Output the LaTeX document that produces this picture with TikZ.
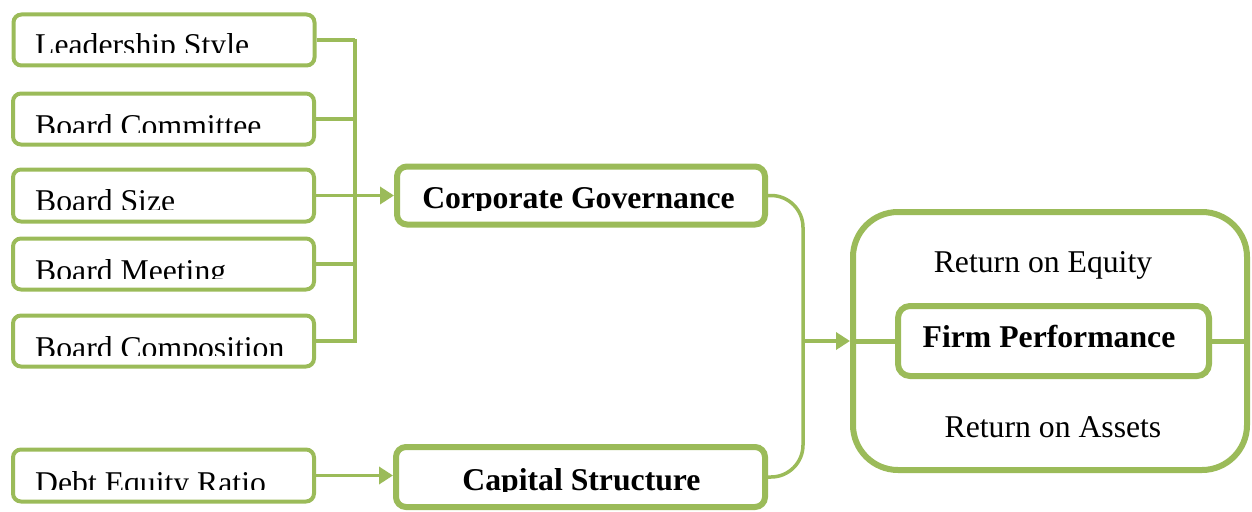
\documentclass[tikz,border=0pt]{standalone}
\usepackage{fontspec}
\setmainfont{Liberation Serif}
\usetikzlibrary{arrows.meta}
\definecolor{olive}{HTML}{9BBB59}

% text whose lower part is cut off by a horizontal clip line
% #1 name, #2 node options, #3 x, #4 baseline y, #5 clip top, #6 clip bottom, #7 text
\newcommand{\cuttext}[7]{%
  \begin{scope}
    \clip (0,#5) rectangle (1252,#6);
    \node[#2] (#1) at (#3,#4) {#7};
  \end{scope}}

\begin{document}
\begin{tikzpicture}[x=1pt,y=-1pt,
  smallbox/.style={draw=olive, line width=4pt, rounded corners=8pt,
    minimum width=301pt, minimum height=51pt, inner sep=0pt},
  bigbox/.style={draw=olive, line width=6pt, rounded corners=10pt, inner sep=0pt},
  conn/.style={draw=olive, line width=3.5pt},
  arr/.style={conn, -{Triangle[length=14pt,width=17pt]}},
  txt/.style={font=\fontsize{31.7}{38}\selectfont, inner sep=0pt, anchor=base west},
  ctxt/.style={font=\fontsize{31.7}{38}\selectfont, inner sep=0pt, anchor=base},
  btxt/.style={font=\fontsize{31.7}{38}\selectfont\bfseries, inner sep=0pt, anchor=base}]
\useasboundingbox (0,0) rectangle (1252,511);

% left column of indicators
\node[smallbox] (ls)    at (164,40)    {};
\node[smallbox] (bc)    at (163.5,119)   {};
\node[smallbox, minimum height=52pt] (bs) at (163.5,195.5) {};
\node[smallbox] (bm)    at (163.5,264)   {};
\node[smallbox] (bcomp) at (163.5,341)   {};
\node[smallbox, minimum height=52pt] (de) at (163.5,475.5) {};

\cuttext{lst}{txt}{35}{56}{15}{53}{Leadership Style}
\cuttext{bct}{txt}{35}{136}{94}{132}{Board Committee}
\cuttext{bst}{txt}{35}{211}{170}{209}{Board Size}
\cuttext{bmt}{txt}{35}{281}{239}{278}{Board Meeting}
\cuttext{bcompt}{txt}{35}{358}{316}{355}{Board Composition}
\cuttext{det}{txt}{35}{493}{451}{489}{Debt Equity Ratio}

% main constructs
\node[bigbox, minimum width=368pt, minimum height=58pt] (cg) at (581,195.5) {};
\node[bigbox, minimum width=369pt, minimum height=60pt] (cs) at (580.5,477) {};
\cuttext{cgt}{btxt}{578.5}{208}{168}{210}{Corporate Governance}
\cuttext{cst}{btxt}{581.5}{490}{449}{491}{Capital Structure}

% outcome container
\node[bigbox, rounded corners=45pt, minimum width=394pt, minimum height=258pt] (out) at (1050,341) {};
\node[bigbox, rounded corners=12pt, minimum width=311pt, minimum height=70pt] (fp) at (1053.5,341) {};
\node[ctxt] (roe) at (1043,272) {Return on Equity};
\node[btxt] (fpt) at (1049,347) {Firm Performance};
\node[ctxt] (roa) at (1053,437) {Return on Assets};

% bracket joining the governance indicators
\coordinate (brtop) at (355,39);
\coordinate (brbot) at (355,342.75);
\draw[conn] (ls.east) -- (ls.east -| brtop);
\draw[conn] (bc.east) -- (bc.east -| brtop);
\draw[conn] (bm.east) -- (bm.east -| brtop);
\draw[conn] (bcomp.east) -- (bcomp.east -| brbot);
\draw[conn] (brtop) -- (brbot);
\draw[arr] (bs.east) -- (cg.west);
\draw[arr] (de.east) -- (de.east -| cs.west);

% bracket joining the two constructs, leading to performance
\coordinate (bus) at (803,341);
\draw[conn, rounded corners=32pt] (cg.east) -- (cg.east -| bus) -- (cs.east -| bus) -- (cs.east);
\draw[arr] (bus) -- (out.west);
\draw[conn, line width=5pt] (out.west) -- (fp.west);
\draw[conn, line width=5pt] (fp.east) -- (out.east);
\end{tikzpicture}
\end{document}
